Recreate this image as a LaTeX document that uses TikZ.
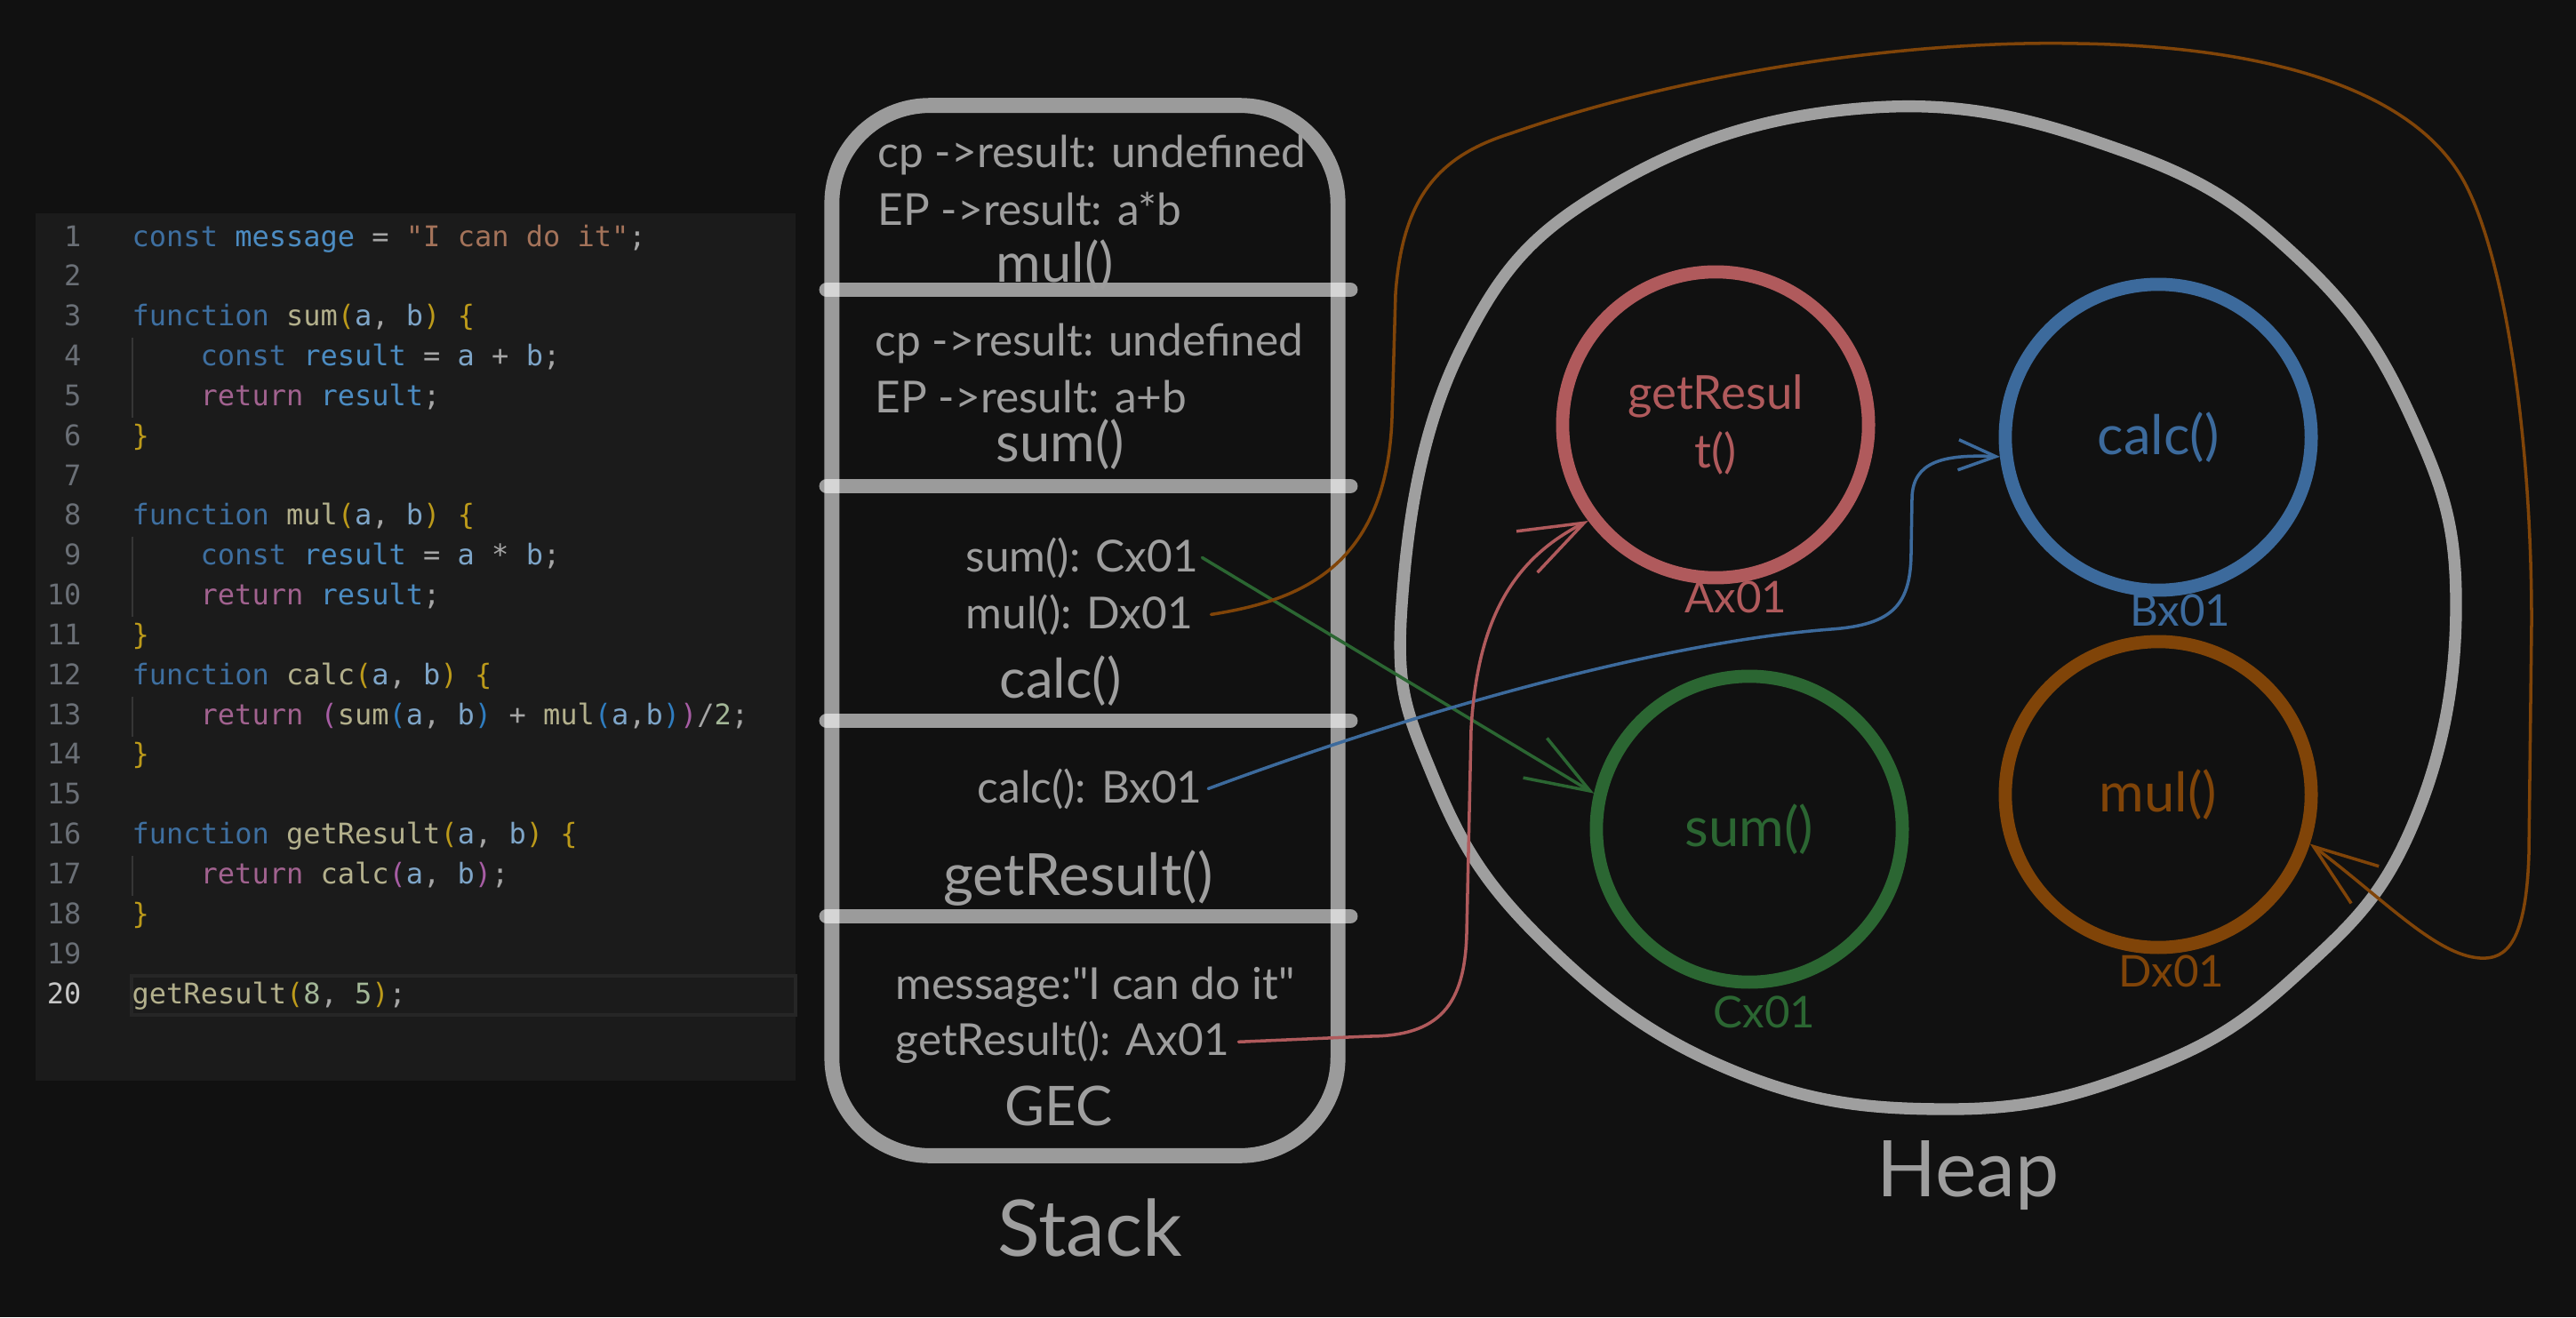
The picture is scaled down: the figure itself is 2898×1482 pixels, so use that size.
\documentclass[tikz,border=0pt]{standalone}
\usepackage{fontspec}
\setmainfont{Lato}[Ligatures=TeXOff]
\newfontfamily\codefont{DejaVu Sans Mono}[Ligatures=TeXOff]
\usetikzlibrary{arrows.meta}
\definecolor{bgc}{HTML}{111111}
\definecolor{panelc}{HTML}{1B1B1B}
\definecolor{hlc}{HTML}{262626}
\definecolor{guidec}{HTML}{363636}
\definecolor{txtgray}{HTML}{9E9E9E}
\definecolor{cred}{HTML}{B05A5C}
\definecolor{cblue}{HTML}{3C6A9C}
\definecolor{cgreen}{HTML}{2B6632}
\definecolor{corange}{HTML}{804408}
\definecolor{ckw}{HTML}{3E6FA0}
\definecolor{cvar}{HTML}{4C8CC2}
\definecolor{cop}{HTML}{A6A6A6}
\definecolor{cstr}{HTML}{A4735A}
\definecolor{cfn}{HTML}{B3B08C}
\definecolor{cpar}{HTML}{7EA5C8}
\definecolor{cgold}{HTML}{BC9A1A}
\definecolor{corch}{HTML}{A75DA4}
\definecolor{cbrb}{HTML}{2F7DC0}
\definecolor{cret}{HTML}{A1628F}
\definecolor{cnum}{HTML}{A3B797}
\definecolor{lnumc}{HTML}{6A6F76}
\definecolor{lnumhi}{HTML}{C6C6C6}
\newcommand\sxKw[1]{\textcolor{ckw}{#1}}
\newcommand\sxVr[1]{\textcolor{cvar}{#1}}
\newcommand\sxFn[1]{\textcolor{cfn}{#1}}
\newcommand\sxPa[1]{\textcolor{cpar}{#1}}
\newcommand\sxGa[1]{\textcolor{cgold}{#1}}
\newcommand\sxOr[1]{\textcolor{corch}{#1}}
\newcommand\sxBl[1]{\textcolor{cbrb}{#1}}
\newcommand\sxRt[1]{\textcolor{cret}{#1}}
\newcommand\sxSt[1]{\textcolor{cstr}{#1}}
\newcommand\sxNm[1]{\textcolor{cnum}{#1}}
\begin{document}
\begin{tikzpicture}[x=0.01cm,y=-0.01cm,
  stacktxt/.style={text=txtgray,font=\fontsize{14.1}{17}\selectfont,anchor=base west,inner sep=0pt},
  frametitle/.style={text=txtgray,font=\fontsize{17.5}{21}\selectfont,anchor=base,inner sep=0pt},
  bigtitle/.style={text=txtgray,font=\fontsize{25}{30}\selectfont,anchor=base,inner sep=0pt},
  sketch/.style={draw=white,draw opacity=0.58,line width=4.8pt,line cap=round},
  heapring/.style={draw=white,draw opacity=0.6,line width=3.8pt},
  obj/.style={circle,draw=#1,text=#1,line width=4.2pt,minimum size=3.44cm,inner sep=0pt,font=\fontsize{17.5}{21}\selectfont},
  addr/.style={text=#1,font=\fontsize{14}{17}\selectfont,inner sep=0pt},
  link/.style={draw=#1,line width=1pt,line cap=round,line join=round,-{Straight Barb[length=0.72cm,width=0.52cm]}},
  code/.style={font=\codefont\fontsize{9.1}{11}\selectfont,anchor=base west,inner sep=0pt,text=cop},
  lnum/.style={font=\codefont\fontsize{9.1}{11}\selectfont,anchor=base east,inner sep=0pt,text=lnumc}]
\fill[bgc] (0,0) rectangle (2898,1482);
\useasboundingbox (0,0) rectangle (2898,1482);

% ---------- code panel ----------
\fill[panelc] (40,240) rectangle (895,1216);
\draw[hlc,line width=1.2pt] (148,1098) rectangle (895,1142);
\foreach \a/\b in {380/470,604/694,784/829,963/1008}
  \draw[guidec,line width=0.4pt] (149,\a) -- (149,\b);
\foreach \n in {1,...,19}
  \node[lnum] (ln\n) at (92,{277+44.84*(\n-1)}) {\n};
\node[lnum,text=lnumhi] (ln20) at (92,1129) {20};

\node[code] (c1) at (148,277) {\sxKw{const} \sxVr{message} = \sxSt{"I can do it"};};
\node[code] (c3) at (148,366.7) {\sxKw{function} \sxFn{sum}\sxGa{(}\sxPa{a}, \sxPa{b}\sxGa{)} \sxGa{\{}};
\node[code] (c4) at (225,411.5) {\sxKw{const} \sxVr{result} = \sxPa{a} + \sxPa{b};};
\node[code] (c5) at (225,456.4) {\sxRt{return} \sxVr{result};};
\node[code] (c6) at (148,501.2) {\sxGa{\}}};
\node[code] (c8) at (148,590.9) {\sxKw{function} \sxFn{mul}\sxGa{(}\sxPa{a}, \sxPa{b}\sxGa{)} \sxGa{\{}};
\node[code] (c9) at (225,635.7) {\sxKw{const} \sxVr{result} = \sxPa{a} * \sxPa{b};};
\node[code] (c10) at (225,680.6) {\sxRt{return} \sxVr{result};};
\node[code] (c11) at (148,725.4) {\sxGa{\}}};
\node[code] (c12) at (148,770.2) {\sxKw{function} \sxFn{calc}\sxGa{(}\sxPa{a}, \sxPa{b}\sxGa{)} \sxGa{\{}};
\node[code] (c13) at (225,815.1) {\sxRt{return} \sxOr{(}\sxFn{sum}\sxBl{(}\sxPa{a}, \sxPa{b}\sxBl{)} + \sxFn{mul}\sxBl{(}\sxPa{a},\sxPa{b}\sxBl{)}\sxOr{)}/\sxNm{2};};
\node[code] (c14) at (148,859.9) {\sxGa{\}}};
\node[code] (c16) at (148,949.6) {\sxKw{function} \sxFn{getResult}\sxGa{(}\sxPa{a}, \sxPa{b}\sxGa{)} \sxGa{\{}};
\node[code] (c17) at (225,994.4) {\sxRt{return} \sxFn{calc}\sxOr{(}\sxPa{a}, \sxPa{b}\sxOr{)};};
\node[code] (c18) at (148,1039.3) {\sxGa{\}}};
\node[code] (c20) at (148,1129) {\sxFn{getResult}\sxGa{(}\sxNm{8}, \sxNm{5}\sxGa{)};};

% ---------- stack ----------
\node[sketch,rounded corners=1.1cm,minimum width=5.69cm,minimum height=11.81cm,inner sep=0pt] (stack) at (1220.5,709.5) {};
\foreach \yy in {326,547,811,1031}
  \draw[sketch] (930,\yy) -- (1519,\yy);

\node[stacktxt] (cp1) at (987,189) {cp ->result: undefined};
\node[stacktxt] (ep1) at (987,253) {EP ->result: a*b};
\node[frametitle] (tmul) at (1187,317) {mul()};
\node[stacktxt] (cp2) at (984,400) {cp ->result: undefined};
\node[stacktxt] (ep2) at (984,464) {EP ->result: a+b};
\node[frametitle] (tsum) at (1193,519) {sum()};
\node[stacktxt] (sumaddr) at (1086,643) {sum(): Cx01};
\node[stacktxt] (muladdr) at (1086,707) {mul(): Dx01};
\node[frametitle] (tcalc) at (1193,785) {calc()};
\node[stacktxt] (calcaddr) at (1099,903) {calc(): Bx01};
\node[frametitle,font=\fontsize{18.6}{22}\selectfont] (tget) at (1213,1007) {getResult()};
\node[stacktxt] (msg) at (1007,1124) {message:"I can do it"};
\node[stacktxt] (graddr) at (1007,1187) {getResult(): Ax01};
\node[frametitle] (tgec) at (1191,1266) {GEC};
\node[bigtitle] (tstack) at (1226,1413) {Stack};

% ---------- heap ----------
\draw[heapring] plot[smooth cycle,tension=0.7] coordinates {(1577,680) (1611,871) (1731,1054) (1945,1203) (2192,1248) (2415,1203) (2586,1095) (2714,929) (2763,680) (2714,473) (2586,291) (2389,170) (2107,121) (1816,208) (1645,390)};
\node[bigtitle] (theap) at (2214,1346) {Heap};

\node[obj=cred,align=center,font=\fontsize{15}{18.8}\selectfont] (rc) at (1930,478) {getResul\\t()};
\node[obj=cblue] (bc) at (2428,492) {calc()};
\node[obj=cgreen] (gc) at (1968,933) {sum()};
\node[obj=corange] (oc) at (2428,894) {mul()};
\node[addr=cred] (aA) at (1953,672) {Ax01};
\node[addr=cblue] (aB) at (2453,687) {Bx01};
\node[addr=cgreen] (aC) at (1985,1139) {Cx01};
\node[addr=corange] (aD) at (2443,1093) {Dx01};

% ---------- connectors ----------
\draw[link=cgreen] ([xshift=0.04cm]sumaddr.east) -- (gc.167);
\draw[link=corange] ([xshift=0.2cm]muladdr.east) .. controls (1460,676) and (1560,640) .. (1566,470)
  -- (1570,330) .. controls (1578,220) and (1620,175) .. (1700,150)
  .. controls (1900,80) and (2150,45) .. (2337,49)
  .. controls (2550,52) and (2720,100) .. (2775,210)
  .. controls (2820,300) and (2848,500) .. (2848,700)
  -- (2845,960) .. controls (2842,1060) and (2820,1080) .. (2790,1078)
  .. controls (2740,1075) and (2680,1010) .. (oc.-18);
\draw[link=cblue,-{Straight Barb[length=0.42cm,width=0.34cm]}] ([xshift=0.06cm]calcaddr.east) .. controls (1650,780) and (1900,720) .. (2060,708)
  .. controls (2130,703) and (2150,680) .. (2150,620) -- (2151,560)
  .. controls (2152,520) and (2185,511) .. (bc.187);
\draw[link=cred] ([xshift=0.1cm]graddr.east) -- (1540,1166) .. controls (1620,1166) and (1648,1130) .. (1650,1050)
  -- (1655,820) .. controls (1662,700) and (1700,630) .. (rc.217);
\end{tikzpicture}
\end{document}
